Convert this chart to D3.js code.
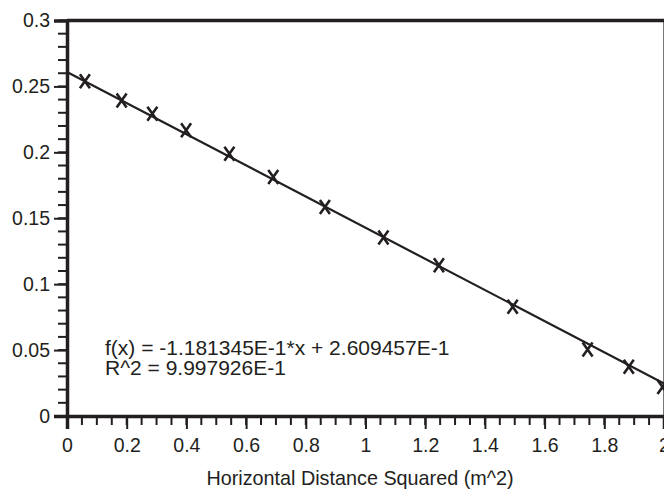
<!DOCTYPE html>
<html>
<head>
<meta charset="utf-8">
<script src="https://cdn.jsdelivr.net/npm/d3@7"></script>
<style>
  body { margin: 0; background: #fff; }
  text { font-family: "Liberation Sans", Arial, sans-serif; fill: #231f20; }
</style>
</head>
<body>
<svg id="chart" width="664" height="490"></svg>
<script>
// measured points (x = horizontal distance squared, y = value)
const xs = [0.060, 0.183, 0.286, 0.399, 0.544, 0.691, 0.864, 1.060, 1.246, 1.493, 1.744, 1.882, 1.995];
const ys = [0.254, 0.2394, 0.2293, 0.2167, 0.199, 0.1813, 0.1586, 0.1354, 0.1144, 0.0828, 0.0505, 0.0374, 0.022];

// linear fit shown on the chart
const slope = -1.181345E-1;
const intercept = 2.609457E-1;
const fitLabels = ["f(x) = -1.181345E-1*x + 2.609457E-1", "R^2 = 9.997926E-1"];

const xTicks = [0, 0.2, 0.4, 0.6, 0.8, 1, 1.2, 1.4, 1.6, 1.8, 2];
const yTicks = [0, 0.05, 0.1, 0.15, 0.2, 0.25, 0.3];
const xTitle = "Horizontal Distance Squared (m^2)";

const ink = "#231f20";
let svg = d3.select("#chart");

let x = d3.scaleLinear().domain([0, 2]).range([67, 664]);
let y = d3.scaleLinear().domain([0, 0.3]).range([416, 20.5]);

// frame: thin right border, thick top border
svg.append("line")
    .attr("x1", x(2) - 0.5).attr("x2", x(2) - 0.5)
    .attr("y1", y(0.3)).attr("y2", y(0))
    .attr("stroke", "#777").attr("stroke-width", 1);
svg.append("line")
    .attr("x1", x(0)).attr("x2", x(2))
    .attr("y1", y(0.3)).attr("y2", y(0.3))
    .attr("stroke", ink).attr("stroke-width", 3.5);

// minor ticks
let xMinor = d3.range(0, 2.0001, 0.05);
let yMinor = d3.range(0, 0.3001, 0.01);
svg.append("g").selectAll("line").data(xMinor).enter().append("line")
    .attr("x1", d => x(d)).attr("x2", d => x(d))
    .attr("y1", y(0)).attr("y2", y(0) + 9)
    .attr("stroke", ink).attr("stroke-width", 2);
svg.append("g").selectAll("line").data(yMinor).enter().append("line")
    .attr("x1", x(0) - 9).attr("x2", x(0))
    .attr("y1", d => y(d)).attr("y2", d => y(d))
    .attr("stroke", ink).attr("stroke-width", 2);

// axes with major ticks
let xAxis = svg.append("g")
    .attr("transform", `translate(0,${y(0)})`)
    .call(d3.axisBottom(x).tickValues(xTicks).tickSize(13).tickPadding(9).tickFormat(d3.format("")));
let yAxis = svg.append("g")
    .attr("transform", `translate(${x(0)},0)`)
    .call(d3.axisLeft(y).tickValues(yTicks).tickSize(13).tickPadding(4).tickFormat(d3.format("")));

[xAxis, yAxis].forEach(function(a) {
    a.select(".domain").attr("stroke", ink).attr("stroke-width", 3.5);
    a.selectAll(".tick line").attr("stroke", ink).attr("stroke-width", 2);
    a.selectAll(".tick text")
        .attr("font-size", 19.5)
        .attr("fill", ink)
        .attr("font-family", '"Liberation Sans", Arial, sans-serif');
});

// fitted line
svg.append("path")
    .datum([0, 2])
    .attr("d", d3.line().x(d => x(d)).y(d => y(slope * d + intercept)))
    .attr("fill", "none")
    .attr("stroke", ink)
    .attr("stroke-width", 2.2);

// cross markers
let pts = xs.map((v, i) => ({x: v, y: ys[i]}));
let marks = svg.append("g").selectAll("path").data(pts).enter().append("path")
    .attr("transform", d => `translate(${x(d.x)},${y(d.y)})`)
    .attr("d", "M-5,-7L5,7M5,-7L-5,7")
    .attr("stroke", ink)
    .attr("stroke-width", 2.6)
    .attr("fill", "none");

// fit annotation
svg.append("g").selectAll("text").data(fitLabels).enter().append("text")
    .attr("x", 105)
    .attr("y", (d, i) => 355 + i * 20)
    .attr("font-size", 21)
    .text(d => d);

// axis title
svg.append("text")
    .attr("x", 360)
    .attr("y", 485)
    .attr("text-anchor", "middle")
    .attr("font-size", 19.8)
    .text(xTitle);
</script>
</body>
</html>
